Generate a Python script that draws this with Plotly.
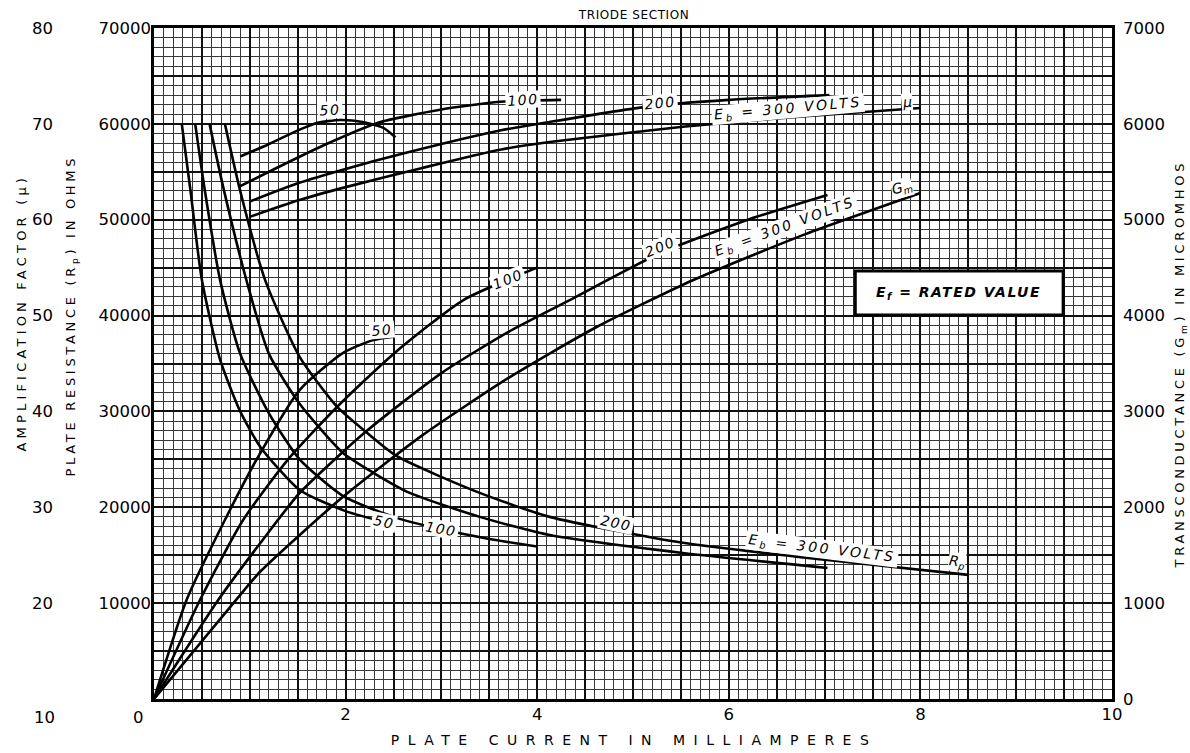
import json
import plotly.graph_objects as go

# ---------------- data ----------------
# Amplification factor (mu) vs plate current (mA), one curve per plate voltage
mu_50_x = [0.90, 1.18, 1.52, 1.70, 1.94, 2.18, 2.39, 2.52]
mu_50_y = [66.6, 67.8, 69.4, 70.1, 70.4, 70.2, 69.6, 68.6]
mu_100_x = [0.90, 1.30, 1.80, 2.33, 3.00, 3.61, 4.25]
mu_100_y = [63.5, 65.5, 67.9, 70.1, 71.5, 72.3, 72.5]
mu_200_x = [1.00, 1.50, 2.00, 2.60, 3.61, 4.13, 5.15, 6.00, 7.05]
mu_200_y = [61.9, 63.8, 65.3, 66.9, 69.3, 70.2, 71.8, 72.5, 73.0]
mu_300_x = [1.00, 1.50, 2.00, 2.80, 3.61, 4.13, 5.52, 6.80, 8.00]
mu_300_y = [60.3, 62.0, 63.4, 65.4, 67.3, 68.1, 69.7, 70.8, 71.65]

# Transconductance (micromhos)
gm_50_x = [0.0, 0.34, 0.74, 1.10, 1.52, 1.97, 2.29, 2.50]
gm_50_y = [0, 1033, 1867, 2550, 3223, 3609, 3745, 3780]
gm_100_x = [0.0, 0.48, 0.93, 1.40, 1.91, 2.50, 3.23, 4.00]
gm_100_y = [0, 1033, 1867, 2500, 3046, 3600, 4162, 4500]
gm_200_x = [0.0, 0.67, 1.11, 1.52, 2.20, 3.00, 3.70, 4.34, 5.28, 6.20, 7.03]
gm_200_y = [0, 1033, 1627, 2149, 2780, 3400, 3830, 4162, 4650, 5000, 5258]
gm_300_x = [0.0, 0.87, 1.11, 1.97, 2.80, 3.70, 4.62, 5.63, 6.80, 8.00]
gm_300_y = [0, 1050, 1330, 2107, 2750, 3350, 3881, 4371, 4850, 5279]

# Plate resistance (ohms)
rp_50_x = [0.29, 0.38, 0.50, 0.69, 0.90, 1.11, 1.52, 2.00, 2.50]
rp_50_y = [60000, 53100, 43700, 35400, 30000, 26300, 21800, 19600, 18200]
rp_100_x = [0.43, 0.53, 0.69, 0.90, 1.20, 1.52, 1.97, 2.50, 3.00, 3.50, 4.00]
rp_100_y = [60000, 53100, 43700, 36000, 29800, 25000, 21200, 19000, 17700, 16700, 15900]
rp_200_x = [0.58, 0.72, 0.97, 1.20, 1.52, 1.97, 2.29, 2.67, 3.40, 4.13, 5.52, 7.03]
rp_200_y = [60000, 53500, 43500, 36000, 30800, 25700, 23600, 21500, 19000, 17100, 15230, 13670]
rp_300_x = [0.74, 0.90, 1.16, 1.52, 1.91, 2.22, 2.54, 3.40, 4.13, 5.52, 7.03, 8.50]
rp_300_y = [60000, 53000, 43700, 35700, 30500, 27800, 25300, 21500, 19000, 16300, 14500, 12950]

# Tick labels
x_tick_vals = [2, 4, 6, 8, 10]
x_tick_labels = ["2", "4", "6", "8", "10"]
rp_tick_vals = [10000, 20000, 30000, 40000, 50000, 60000, 70000]
rp_tick_labels = ["10000", "20000", "30000", "40000", "50000", "60000", "70000"]
mu_tick_vals = [20, 30, 40, 50, 60, 70, 80]
mu_tick_labels = ["20", "30", "40", "50", "60", "70", "80"]
gm_tick_vals = [0, 1000, 2000, 3000, 4000, 5000, 6000, 7000]
gm_tick_labels = ["0", "1000", "2000", "3000", "4000", "5000", "6000", "7000"]

# ---------------- figure ----------------
FONT = "DejaVu Sans"
LINE = dict(color="black", width=2.6, shape="spline", smoothing=0.6)

fig = go.Figure()
curves = [
    (mu_50_x, mu_50_y, "y2"), (mu_100_x, mu_100_y, "y2"),
    (mu_200_x, mu_200_y, "y2"), (mu_300_x, mu_300_y, "y2"),
    (gm_50_x, gm_50_y, "y3"), (gm_100_x, gm_100_y, "y3"),
    (gm_200_x, gm_200_y, "y3"), (gm_300_x, gm_300_y, "y3"),
    (rp_50_x, rp_50_y, "y"), (rp_100_x, rp_100_y, "y"),
    (rp_200_x, rp_200_y, "y"), (rp_300_x, rp_300_y, "y"),
]
for cx, cy, ax in curves:
    fig.add_trace(go.Scatter(x=cx, y=cy, yaxis=ax, mode="lines", line=LINE,
                             hoverinfo="skip", showlegend=False))
# empty trace that carries the label-only axes
fig.add_trace(go.Scatter(x=[], y=[], xaxis="x2", yaxis="y4", showlegend=False,
                         hoverinfo="skip"))

TICKFONT = dict(family=FONT, size=16.5, color="black")
GRID_MAJOR = "#111111"
GRID_MINOR = "#383838"

fig.update_layout(
    width=1190, height=753,
    margin=dict(l=154, r=78, t=28, b=54),
    paper_bgcolor="white", plot_bgcolor="white",
    font=dict(family=FONT, color="black"),
    # grid axes (heavy every 0.5 mA / 5000 ohm, light every 0.1 mA / 1000 ohm)
    xaxis=dict(range=[0, 10], tickmode="linear", tick0=0, dtick=0.5,
               showticklabels=False, showgrid=True, gridcolor=GRID_MAJOR, gridwidth=1.5,
               minor=dict(tickmode="linear", tick0=0, dtick=0.1, showgrid=True,
                          gridcolor=GRID_MINOR, gridwidth=1, ticks=""),
               ticks="", showline=True, linecolor="black", linewidth=2.5, mirror=True,
               zeroline=False, automargin=False, fixedrange=True),
    yaxis=dict(range=[0, 70000], tickmode="linear", tick0=0, dtick=5000,
               showticklabels=False, showgrid=True, gridcolor=GRID_MAJOR, gridwidth=1.5,
               minor=dict(tickmode="linear", tick0=0, dtick=1000, showgrid=True,
                          gridcolor=GRID_MINOR, gridwidth=1, ticks=""),
               ticks="", showline=True, linecolor="black", linewidth=2.5, mirror=True,
               zeroline=False, automargin=False, fixedrange=True),
    # label axes
    xaxis2=dict(range=[0, 10], overlaying="x", side="bottom", anchor="y",
                tickmode="array", tickvals=x_tick_vals, ticktext=x_tick_labels,
                showgrid=False, zeroline=False, showline=False, ticks="",
                ticklabelstandoff=3, tickfont=TICKFONT, automargin=False, fixedrange=True),
    yaxis4=dict(range=[0, 70000], overlaying="y", side="left", anchor="x",
                tickmode="array", tickvals=rp_tick_vals, ticktext=rp_tick_labels,
                showgrid=False, zeroline=False, showline=False, ticks="",
                ticklabelstandoff=2, tickfont=TICKFONT, automargin=False, fixedrange=True),
    yaxis2=dict(range=[10, 80], overlaying="y", side="left", anchor="free", position=0,
                tickmode="array", tickvals=mu_tick_vals, ticktext=mu_tick_labels,
                showgrid=False, zeroline=False, showline=False, ticks="",
                ticklabelstandoff=101, tickfont=TICKFONT, automargin=False,
                fixedrange=True),
    yaxis3=dict(range=[0, 7000], overlaying="y", side="right", anchor="x",
                tickmode="array", tickvals=gm_tick_vals, ticktext=gm_tick_labels,
                showgrid=False, zeroline=False, showline=False, ticks="",
                ticklabelstandoff=10, tickfont=TICKFONT, automargin=False,
                fixedrange=True),
)

# box "Ef = RATED VALUE"
fig.add_shape(type="rect", xref="x", yref="y", x0=7.32, x1=9.49, y0=40060, y1=44650,
              line=dict(color="black", width=3), fillcolor="white", layer="above")

ann = []
spacing = {}
C = dict(xanchor="center", yanchor="middle", showarrow=False)


def add_ann(ls=0, **kw):
    d = dict(C)
    d.update(kw)
    if ls:
        spacing[len(ann)] = ls
    ann.append(d)


TITLE = dict(family=FONT, size=13, color="black")
add_ann(4.2, text="AMPLIFICATION FACTOR (μ)", xref="paper", yref="paper",
        x=-0.1388, y=0.575, textangle=-90, font=TITLE)
add_ann(3.7, text="PLATE RESISTANCE (R<sub>p</sub>) IN OHMS", xref="paper", yref="paper",
        x=-0.0856, y=0.571, textangle=-90, font=TITLE)
add_ann(3.7, text="TRANSCONDUCTANCE (G<sub>m</sub>) IN MICROMHOS", xref="paper",
        yref="paper", x=1.072, y=0.50, textangle=-90, font=TITLE)
add_ann(8.5, text="PLATE CURRENT IN MILLIAMPERES", xref="paper", yref="paper",
        x=0.501, y=-0.061, font=dict(family=FONT, size=14, color="black"))
add_ann(0.6, text="TRIODE SECTION", xref="paper", yref="paper", x=0.5, y=1.0194,
        font=dict(family=FONT, size=12, color="black"))

# extra bottom-row labels
add_ann(text="10", xref="paper", yref="paper", x=-0.1148, y=-0.0283, font=TICKFONT)
add_ann(text="0", xref="paper", yref="paper", x=-0.0167, y=-0.0283, font=TICKFONT)

add_ann(1.5, text="<b><i>E<sub>f</sub> = RATED VALUE</i></b>", xref="x", yref="y",
        x=8.40, y=42350, font=dict(family=FONT, size=14, color="black"))

LAB = dict(family=FONT, size=14, color="black")


def lab(text, x, y, yref, angle=0, ls=1.5, w=None):
    kw = dict(text="<i>" + text + "</i>", xref="x", yref=yref, x=x, y=y,
              textangle=angle, font=LAB, bgcolor="white", borderpad=0)
    if w:
        kw["width"] = w
    add_ann(ls, **kw)


EB = "E<sub>b</sub> = 300 VOLTS"
# mu curve labels
lab("50", 1.84, 71.4, "y2", -3, w=24)
lab("100", 3.85, 72.45, "y2", -4, w=34)
lab("200", 5.28, 72.2, "y2", -6, w=34)
lab(EB, 6.62, 71.55, "y2", -5, ls=2.6, w=152)
lab("μ", 7.86, 72.3, "y2", -5, ls=0)
# gm curve labels
lab("50", 2.38, 3849, "y3", -5, w=24)
lab("100", 3.70, 4380, "y3", -22, w=34)
lab("200", 5.28, 4720, "y3", -22, w=34)
lab(EB, 6.59, 4924, "y3", -20, ls=2.6, w=152)
lab("G<sub>m</sub>", 7.81, 5330, "y3", -15, ls=0)
# rp curve labels
lab("50", 2.40, 18450, "y", 12, w=24)
lab("100", 3.00, 17700, "y", 10, w=34)
lab("200", 4.82, 18360, "y", 12, w=34)
lab(EB, 6.97, 15650, "y", 7, ls=2.6, w=152)
lab("R<sub>p</sub>", 8.38, 14290, "y", 8, ls=0)

fig.update_layout(annotations=ann)

post = """
document.body.style.margin = '0';
var ls = %s; var css = '';
for (var k in ls) { css += '.annotation[data-index="' + k + '"] text{letter-spacing:' + ls[k] + 'px;}'; }
var st = document.createElement('style'); st.textContent = css; document.head.appendChild(st);
""" % json.dumps(spacing)

fig.write_html("out.html", post_script=post, config={"displayModeBar": False})
